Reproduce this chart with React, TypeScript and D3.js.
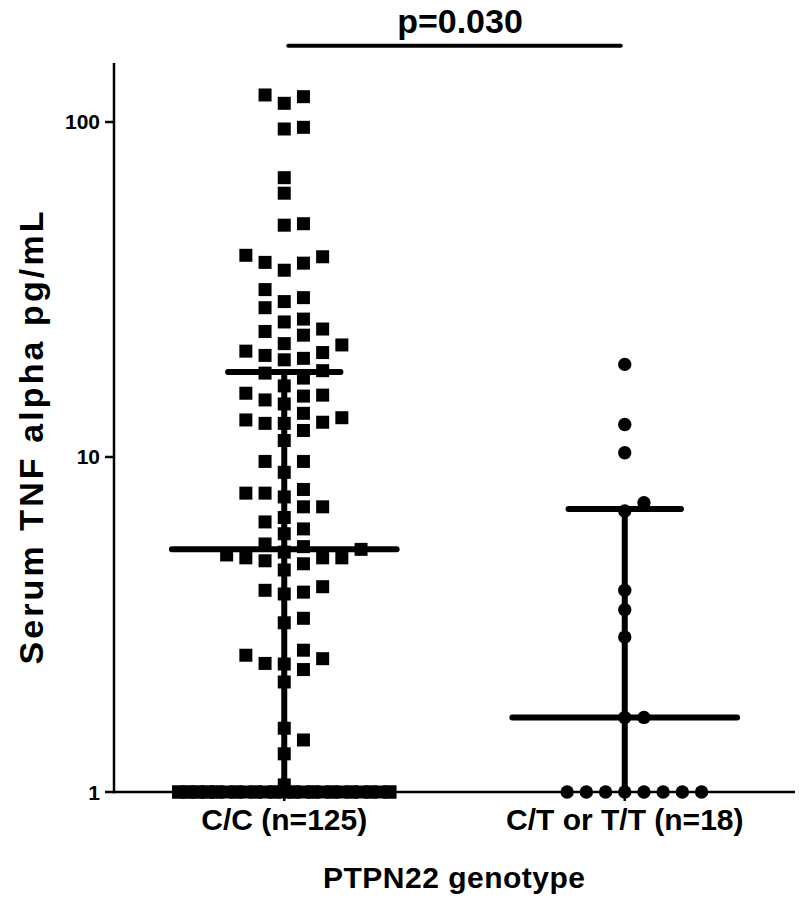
import React from 'react';
import * as d3 from 'd3';

// PTPN22 genotype groups
const groups = ['C/C (n=125)', 'C/T or T/T (n=18)'];

// serum TNF alpha (pg/mL), C/C carriers
const ccValues = [
  120.4, 119, 113.7, 96.4, 95.3, 68.2, 61.3, 49.7, 49.2, 40.0,
  39.6, 38.1, 37.9, 36.1, 31.6, 29.9, 29.1, 27.9, 25.8, 25.3,
  24.1, 23.7, 23.1, 21.8, 21.6, 20.7, 20.5, 20.1, 19.7, 19.5,
  18.1, 17.8, 17.2, 16.3, 15.5, 15.3, 15.2, 14.8, 14.4, 13.5,
  13.1, 12.9, 12.7, 12.6, 12.6, 12.0, 11.2, 9.7, 9.7, 9.0,
  8.0, 7.8, 7.8, 7.6, 7.1, 7.1, 6.6, 6.4, 6.1, 5.9,
  5.5, 5.4, 5.3, 5.2, 5.1, 5.0, 5.0, 5.0, 4.9, 4.8,
  4.6, 4.1, 4.0, 3.95, 3.9, 3.3, 3.2, 2.65, 2.56, 2.5,
  2.42, 2.41, 2.32, 2.13, 1.55, 1.43, 1.30, 1.05,
  1, 1, 1, 1, 1, 1, 1, 1, 1, 1,
  1, 1, 1, 1, 1, 1, 1, 1, 1, 1,
  1, 1, 1, 1, 1, 1, 1, 1, 1, 1,
  1, 1, 1, 1, 1, 1, 1,
];

// C/T or T/T carriers
const ctValues = [18.9, 12.5, 10.3, 7.3, 6.9, 4.0, 3.5, 2.9, 1.67, 1.67, 1, 1, 1, 1, 1, 1, 1, 1];

const yTicks = [1, 10, 100];
const pLabel = 'p=0.030';

const W = 800;
const H = 902;
const FONT = '"Liberation Sans", Arial, Helvetica, sans-serif';
const SYM = 13; // marker size
const COL = 19.2; // swarm column spacing

// GraphPad style percentile (n+1)p
function quantile6(values: number[], p: number) {
  const a = [...values].sort((x, y) => x - y);
  const n = a.length;
  const h = Math.min(Math.max((n + 1) * p, 1), n);
  const lo = Math.floor(h);
  const hi = Math.ceil(h);
  return a[lo - 1] + (h - lo) * (a[hi - 1] - a[lo - 1]);
}

// simple beeswarm: returns a column offset (in columns) for each value
function swarm(values: number[], y: (v: number) => number, gap: number, maxRow: number) {
  const slots = new Array(values.length).fill(0);
  const placed: { k: number; py: number }[] = [];
  const counts = d3.rollup(values, (v) => v.length, (d) => d);
  const rowPos = new Map<number, { r: number; j: number }>();
  const rest: number[] = [];
  values.forEach((v, i) => {
    if ((counts.get(v) ?? 0) > maxRow) {
      // big ties: stacked rows, alternately shifted by half a column
      const st = rowPos.get(v) ?? { r: 0, j: 0 };
      const cap = maxRow - (st.r % 2);
      const k = st.j - (cap - 1) / 2;
      slots[i] = k;
      placed.push({ k, py: y(v) });
      st.j += 1;
      if (st.j >= cap) {
        st.j = 0;
        st.r += 1;
      }
      rowPos.set(v, st);
    } else rest.push(i);
  });
  rest.sort((a, b) => values[a] - values[b]);
  const seq = [0];
  for (let s = 1; s <= 6; s++) seq.push(s, -s);
  rest.forEach((i) => {
    const py = y(values[i]);
    let best = 0;
    let bestD = -1;
    for (const k of seq) {
      let d = Infinity;
      placed.forEach((p) => {
        if (Math.abs(p.k - k) < 1 && Math.abs(p.py - py) < d) d = Math.abs(p.py - py);
      });
      if (d >= gap) {
        best = k;
        break;
      }
      if (d > bestD) {
        bestD = d;
        best = k;
      }
    }
    slots[i] = best;
    placed.push({ k: best, py });
  });
  return slots;
}

export default function App() {
  const x = d3.scalePoint<string>().domain(groups).range([114, 795]).padding(0.5);
  const y = d3.scaleLog().domain([1, 150]).range([792, 63]);
  const step = x.step();

  const series = [
    { name: groups[0], values: ccValues, shape: 'square' },
    { name: groups[1], values: ctValues, shape: 'circle' },
  ];

  const x0 = x(groups[0])!;
  const x1 = x(groups[1])!;

  return (
    <svg
      width={W}
      height={H}
      style={{ position: 'absolute', left: 0, top: 0, display: 'block', background: '#fff' }}
      fontFamily={FONT}
      fontWeight="bold"
    >
      {/* points */}
      {series.map((s) => {
        const cx = x(s.name)!;
        const slots = swarm(s.values, (v) => y(v), 15.5, 12);
        return (
          <g key={s.name}>
            {s.values.map((v, i) => {
              const px = cx + slots[i] * COL;
              const py = y(v);
              return s.shape === 'square' ? (
                <rect key={i} x={px - SYM / 2} y={py - SYM / 2} width={SYM} height={SYM} fill="#000" />
              ) : (
                <circle key={i} cx={px} cy={py} r={SYM / 2 + 0.2} fill="#000" />
              );
            })}
          </g>
        );
      })}

      {/* median + interquartile range */}
      {series.map((s) => {
        const cx = x(s.name)!;
        const med = quantile6(s.values, 0.5);
        const q1 = quantile6(s.values, 0.25);
        const q3 = quantile6(s.values, 0.75);
        const mw = step * 0.33;
        const cw = step * 0.165;
        return (
          <g key={'iqr' + s.name} stroke="#000" strokeWidth={6} strokeLinecap="round">
            <line x1={cx} x2={cx} y1={y(q1)} y2={y(q3)} strokeLinecap="butt" />
            <line x1={cx - mw} x2={cx + mw} y1={y(med)} y2={y(med)} />
            <line x1={cx - cw} x2={cx + cw} y1={y(q3)} y2={y(q3)} />
            {q1 > y.domain()[0] && <line x1={cx - cw} x2={cx + cw} y1={y(q1)} y2={y(q1)} />}
          </g>
        );
      })}

      {/* y axis */}
      <line x1={114} x2={114} y1={y.range()[1]} y2={y.range()[0] + 1.25} stroke="#000" strokeWidth={2.5} />
      {yTicks.map((t) => (
        <g key={t}>
          <line x1={105} x2={114} y1={y(t)} y2={y(t)} stroke="#000" strokeWidth={2.5} />
          <text x={100} y={y(t) + 7.5} textAnchor="end" fontSize={21}>
            {t}
          </text>
        </g>
      ))}

      {/* x axis */}
      <line x1={114} x2={795} y1={y(1)} y2={y(1)} stroke="#000" strokeWidth={2.5} />
      {groups.map((g) => (
        <g key={g}>
          <line x1={x(g)} x2={x(g)} y1={y(1)} y2={y(1) + 9} stroke="#000" strokeWidth={2.5} />
          <text x={x(g)} y={830} textAnchor="middle" fontSize={30}>
            {g}
          </text>
        </g>
      ))}

      {/* axis titles */}
      <text x={454} y={888} textAnchor="middle" fontSize={30} textLength={262} lengthAdjust="spacing">
        PTPN22 genotype
      </text>
      <text
        transform="translate(43,438) rotate(-90)"
        textAnchor="middle"
        fontSize={34}
        textLength={453}
        lengthAdjust="spacing"
      >
        Serum TNF alpha pg/mL
      </text>

      {/* significance bar */}
      <line x1={x0 + 4} x2={x1 - 4} y1={45.7} y2={45.7} stroke="#000" strokeWidth={4} strokeLinecap="round" />
      <text x={460} y={33} textAnchor="middle" fontSize={34}>
        {pLabel}
      </text>
    </svg>
  );
}
